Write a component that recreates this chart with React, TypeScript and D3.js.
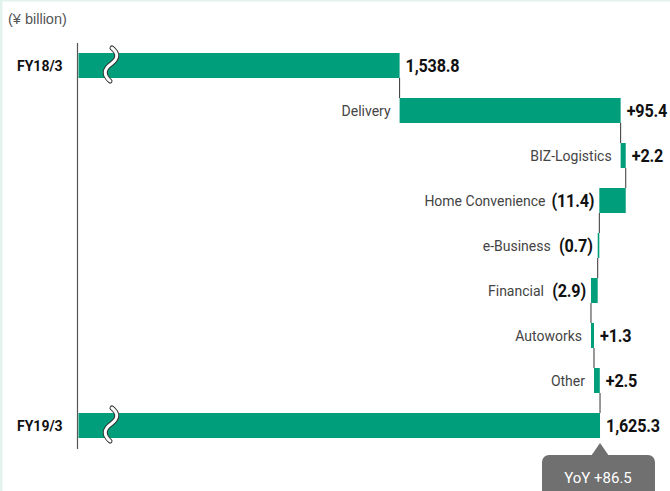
import React from "react";
import * as d3 from "d3";

const startLabel = "FY18/3";
const endLabel = "FY19/3";
const startValue = 1538.8;
const endValue = 1625.3;
const segments = ["Delivery", "BIZ-Logistics", "Home Convenience", "e-Business", "Financial", "Autoworks", "Other"];
const changes = [95.4, 2.2, -11.4, -0.7, -2.9, 1.3, 2.5];
const changeLabels = ["+95.4", "+2.2", "(11.4)", "(0.7)", "(2.9)", "+1.3", "+2.5"];
const totalLabels = ["1,538.8", "1,625.3"];
const yoyLabel = "YoY +86.5";
const unitLabel = "(¥ billion)";

const W = 670;
const H = 491;
const TEAL = "#009e7b";
const FONT = "Roboto, 'Noto Sans', sans-serif";

export default function App() {
  const rows = [startLabel, ...segments, endLabel];
  const x = d3.scaleLinear().domain([1400, 1650]).range([78, 78 + 250 * 2.317]);
  const y = d3.scaleBand<string>().domain(rows).range([53 - 10, 53 - 10 + 45 * 9]).paddingInner(20 / 45).paddingOuter(10 / 45);
  const bh = y.bandwidth();

  const cum: number[] = [];
  let c = startValue;
  changes.forEach((d) => {
    cum.push(c);
    c += d;
  });

  const breakPath = (cx: number, top: number) =>
    `M ${cx + 2} ${top - 5} Q ${cx + 12} ${top + 3} ${cx + 1} ${top + 11} Q ${cx - 10} ${top + 19} ${cx} ${top + 28}`;

  const endX = x(endValue);
  const yEnd = y(endLabel)! + bh;

  const valueText = (tx: number, ty: number, label: string, anchor: "start" | "end") => (
    <text
      x={0}
      y={0}
      transform={`translate(${tx},${ty}) scale(0.9,1)`}
      textAnchor={anchor}
      fontFamily={FONT}
      fontWeight={700}
      fontSize={18}
      fill="#111"
      letterSpacing={-0.2}
    >
      {label}
    </text>
  );

  return (
    <div style={{ position: "absolute", left: 0, top: 0 }}>
      <svg width={W} height={H} style={{ display: "block" }}>
        <rect x={0} y={0} width={W} height={H} fill="#fff" />
        <rect x={0} y={0} width={W} height={1.5} fill="#e2f3ee" />
        <rect x={0} y={0} width={2.5} height={H} fill="#e2f3ee" />
        <text x={8} y={24} fontFamily="'Liberation Sans', Arial, sans-serif" fontSize={14.5} fill="#555">
          {unitLabel}
        </text>

        <line x1={77.5} x2={77.5} y1={43} y2={449} stroke="#555" strokeWidth={1.2} />

        {[startLabel, endLabel].map((r, i) => {
          const v = i === 0 ? startValue : endValue;
          const by = y(r)!;
          return (
            <g key={r}>
              <rect x={x(1400) + 0.5} y={by} width={x(v) - x(1400) - 0.5} height={bh} fill={TEAL} />
              <path d={breakPath(110, by)} fill="none" stroke="#333" strokeWidth={5} strokeLinecap="round" />
              <path d={breakPath(110, by)} fill="none" stroke="#fff" strokeWidth={3} strokeLinecap="round" />
              <text x={17} y={by + bh / 2 + 5} fontFamily={FONT} fontWeight={700} fontSize={14} fill="#111">
                {r}
              </text>
              {valueText(x(v) + 6, by + bh / 2 + 6.5, totalLabels[i], "start")}
            </g>
          );
        })}

        {segments.map((s, i) => {
          const a = cum[i];
          const b = cum[i] + changes[i];
          const x0 = x(Math.min(a, b));
          const x1 = x(Math.max(a, b));
          const by = y(s)!;
          const prevBottom = i === 0 ? y(startLabel)! + bh : y(segments[i - 1])! + bh;
          const neg = changes[i] < 0;
          const cy = by + bh / 2;
          return (
            <g key={s}>
              <line x1={x(a)} x2={x(a)} y1={prevBottom} y2={by} stroke="#333" strokeWidth={1} />
              <rect x={x0} y={by} width={Math.max(x1 - x0, 1.5)} height={bh} fill={TEAL} />
              {neg ? (
                <>
                  {valueText(x0 - 5, cy + 6.5, changeLabels[i], "end")}
                  <text x={x0 - 5 - changeLabels[i].length * 6.8 - 8} y={cy + 5} textAnchor="end" fontFamily={FONT} fontSize={14} fill="#444">
                    {s}
                  </text>
                </>
              ) : (
                <>
                  {valueText(x1 + 6, cy + 6.5, changeLabels[i], "start")}
                  <text x={x0 - 9} y={cy + 5} textAnchor="end" fontFamily={FONT} fontSize={14} fill="#444">
                    {s}
                  </text>
                </>
              )}
            </g>
          );
        })}

        <line x1={endX} x2={endX} y1={y(segments[segments.length - 1])! + bh} y2={y(endLabel)!} stroke="#333" strokeWidth={1} />

        <g>
          <rect x={542} y={455} width={113} height={50} rx={7} fill="#707070" />
          <path d={`M ${endX} ${yEnd + 5} L ${endX - 9} ${456} L ${endX + 9} ${456} Z`} fill="#707070" />
          <text x={endX - 2} y={483} textAnchor="middle" fontFamily={FONT} fontSize={15} fill="#fff">
            {yoyLabel}
          </text>
        </g>
      </svg>
    </div>
  );
}
